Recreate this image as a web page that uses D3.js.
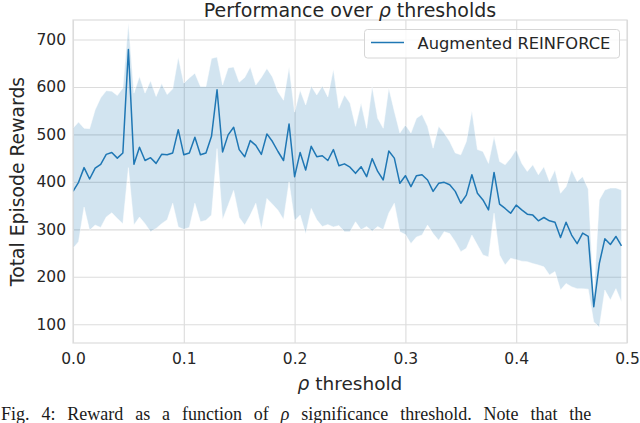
<!DOCTYPE html>
<html>
<head>
<meta charset="utf-8">
<script src="https://cdn.jsdelivr.net/npm/d3@7"></script>
<style>
  html, body { margin: 0; padding: 0; background: #fff; }
  svg { display: block; }
</style>
</head>
<body>
<svg id="chart" width="640" height="423"></svg>
<script>
// ---- data ----
const thresholds = [
  0.000,0.005,0.010,0.015,0.020,0.025,0.030,0.035,0.040,0.045,
  0.050,0.055,0.060,0.065,0.070,0.075,0.080,0.085,0.090,0.095,
  0.100,0.105,0.110,0.115,0.120,0.125,0.130,0.135,0.140,0.145,
  0.150,0.155,0.160,0.165,0.170,0.175,0.180,0.185,0.190,0.195,
  0.200,0.205,0.210,0.215,0.220,0.225,0.230,0.235,0.240,0.245,
  0.250,0.255,0.260,0.265,0.270,0.275,0.280,0.285,0.290,0.295,
  0.300,0.305,0.310,0.315,0.320,0.325,0.330,0.335,0.340,0.345,
  0.350,0.355,0.360,0.365,0.370,0.375,0.380,0.385,0.390,0.395,
  0.400,0.405,0.410,0.415,0.420,0.425,0.430,0.435,0.440,0.445,
  0.450,0.455,0.460,0.465,0.470,0.475,0.480,0.485,0.490,0.495
];
const meanReward = [
  380,399,430,406,429,437,458,462,450,461,
  679,437,473,445,451,439,458,457,461,510,
  457,461,494,457,461,496,594,463,499,515,
  468,453,487,477,458,501,485,464,445,522,
  411,462,425,475,453,455,445,468,434,438,
  431,418,432,411,449,422,404,465,450,397,
  413,390,413,415,404,380,397,399,394,380,
  355,372,415,376,362,341,420,353,344,334,
  351,341,332,330,318,325,318,315,283,315,
  288,270,292,285,137,228,280,268,285,265
];
const upperReward = [
  513,526,513,512,552,577,592,591,582,598,
  735,587,622,587,613,580,607,584,596,663,
  608,619,629,601,601,660,663,604,640,642,
  610,620,642,604,620,639,621,590,572,642,
  547,593,562,602,583,602,579,637,555,583,
  566,517,566,513,601,534,513,598,549,503,
  520,503,534,542,517,471,517,503,485,461,
  457,485,550,468,464,439,496,443,436,450,
  468,439,422,436,415,432,401,425,376,390,
  425,401,411,385,160,362,383,387,387,383
];
const lowerReward = [
  260,274,347,298,309,304,326,335,323,312,
  430,309,326,312,295,302,312,320,355,305,
  300,304,355,316,319,330,470,320,351,382,
  325,309,330,355,300,365,353,340,321,400,
  318,330,290,344,320,306,310,305,308,295,
  295,316,299,306,296,306,299,334,355,295,
  289,270,284,288,309,291,277,295,291,274,
  253,260,288,267,246,242,334,246,225,239,
  236,233,232,228,225,221,204,211,172,186,
  179,175,175,174,105,94,172,151,175,147
];
const xTicks = [0.0, 0.1, 0.2, 0.3, 0.4, 0.5];
const yTicks = [100, 200, 300, 400, 500, 600, 700];
const seriesName = "Augmented REINFORCE";

// ---- layout ----
const svg = d3.select("#chart");
const L = 73, R = 627, T = 20, B = 343;
const x = d3.scaleLinear().domain([0, 0.5]).range([L, R]);
const y = d3.scaleLinear().domain([60.6, 741]).range([B, T]);
const blue = "#1f77b4";
const gridColor = "#dcdcdc";
const sans = "'DejaVu Sans', sans-serif";
const ink = "#262626";

// grid
const gx = svg.append("g").attr("transform", `translate(0,${B})`)
  .call(d3.axisBottom(x).tickValues(xTicks).tickSize(-(B - T)).tickPadding(10)
    .tickFormat(d3.format(".1f")));
const gy = svg.append("g").attr("transform", `translate(${L},0)`)
  .call(d3.axisLeft(y).tickValues(yTicks).tickSize(-(R - L)).tickPadding(7));
[gx, gy].forEach(g => {
  g.select(".domain").remove();
  g.selectAll(".tick line").attr("stroke", gridColor).attr("stroke-width", 1.1);
  g.selectAll(".tick text").style("font-size", "15.5px").style("fill", ink)
    .style("font-family", sans);
});

// band
const data = thresholds.map((t, i) => ({ t, m: meanReward[i], lo: lowerReward[i], hi: upperReward[i] }));
const area = d3.area().x(d => x(d.t)).y0(d => y(d.lo)).y1(d => y(d.hi));
svg.append("clipPath").attr("id", "plotclip")
  .append("rect").attr("x", L).attr("y", T).attr("width", R - L).attr("height", B - T);
const plot = svg.append("g").attr("clip-path", "url(#plotclip)");
plot.append("path").datum(data).attr("d", area)
  .attr("fill", blue).attr("fill-opacity", 0.2)
  .attr("stroke", "#ffffff").attr("stroke-opacity", 0.6).attr("stroke-width", 0.8);
plot.append("path").datum(data)
  .attr("d", d3.line().x(d => x(d.t)).y(d => y(d.m)))
  .attr("fill", "none").attr("stroke", blue).attr("stroke-width", 1.5)
  .attr("stroke-linejoin", "round");

// spines
svg.append("rect").attr("x", L).attr("y", T).attr("width", R - L).attr("height", B - T)
  .attr("fill", "none").attr("stroke", gridColor).attr("stroke-width", 1.2);

// legend
const lg = svg.append("g");
lg.append("rect").attr("x", 364.5).attr("y", 29.5).attr("width", 255).attr("height", 28.5)
  .attr("rx", 3).attr("fill", "#fff").attr("fill-opacity", 0.8)
  .attr("stroke", "#d6d6d6").attr("stroke-width", 1);
lg.append("line").attr("x1", 371).attr("x2", 404).attr("y1", 42.5).attr("y2", 42.5)
  .attr("stroke", blue).attr("stroke-width", 1.5);
lg.append("text").attr("x", 417.5).attr("y", 48.5)
  .style("font-family", sans).style("font-size", "16.3px").style("fill", ink).text(seriesName);

// title
const title = svg.append("text").attr("x", (L + R) / 2).attr("y", 17)
  .attr("text-anchor", "middle")
  .style("font-family", sans).style("font-size", "19px").style("fill", ink);
title.append("tspan").text("Performance over ");
title.append("tspan").style("font-style", "italic").text("ρ");
title.append("tspan").text(" thresholds");

// x label
const xl = svg.append("text").attr("x", (L + R) / 2).attr("y", 390)
  .attr("text-anchor", "middle")
  .style("font-family", sans).style("font-size", "18.5px").style("fill", ink);
xl.append("tspan").style("font-style", "italic").text("ρ");
xl.append("tspan").text(" threshold");

// y label
svg.append("text").attr("transform", `translate(24,${(T + B) / 2}) rotate(-90)`)
  .attr("text-anchor", "middle")
  .style("font-family", sans).style("font-size", "18.8px").style("fill", ink)
  .text("Total Episode Rewards");

// caption (bottom edge of the page)
const cap = svg.append("text").attr("x", 1).attr("y", 420)
  .style("font-family", "'Liberation Serif', serif").style("font-size", "18px")
  .style("word-spacing", "7.4px").style("fill", "#1a1a1a");
cap.append("tspan").text("Fig. 4: Reward as a function of ");
cap.append("tspan").style("font-style", "italic").text("ρ");
cap.append("tspan").text(" significance threshold. Note that the");
</script>
</body>
</html>
